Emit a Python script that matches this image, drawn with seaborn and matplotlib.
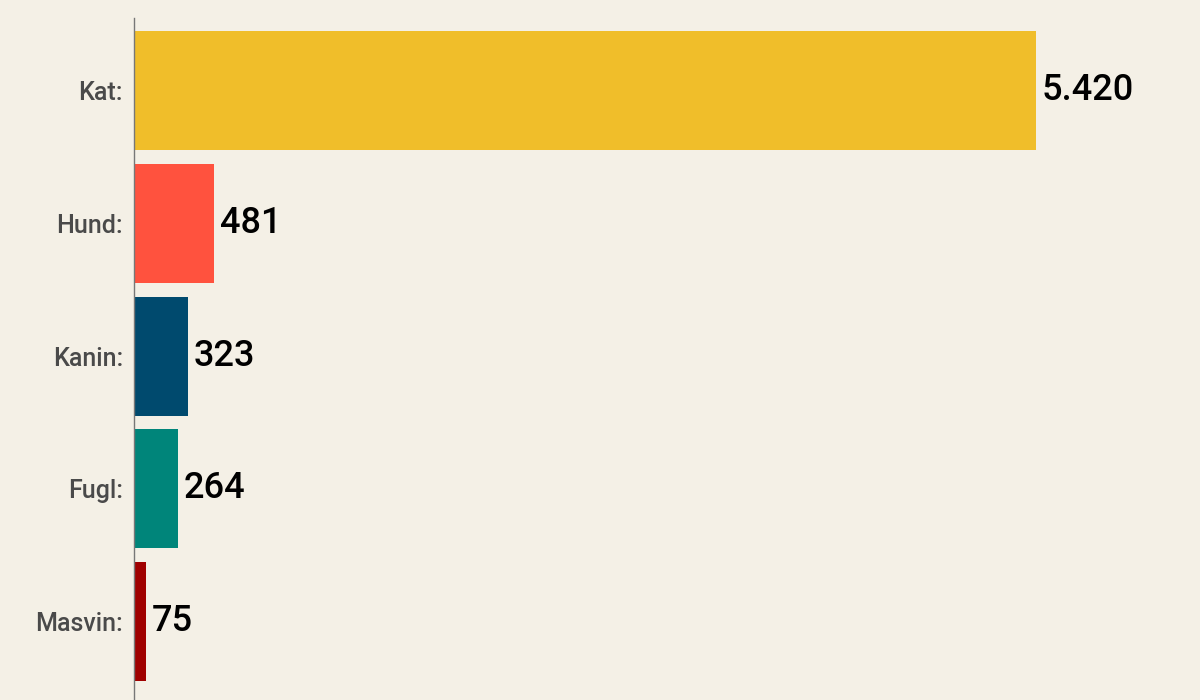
import pandas as pd
import matplotlib.pyplot as plt
import seaborn as sns

# Data
categories = ['Kat:', 'Hund:', 'Kanin:', 'Fugl:', 'Masvin:']
values = [5420, 481, 323, 264, 75]
colors = ['#F0BE2A', '#FF523E', '#004A6E', '#00857A', '#A00000']

bg = '#F4F0E6'

sns.set_theme(style='white')
plt.rcParams['font.family'] = ['Roboto', 'DejaVu Sans']

df = pd.DataFrame({'dyr': categories, 'antal': values})

fig = plt.figure(figsize=(12, 7), dpi=100, facecolor=bg)
ax = fig.add_axes([134 / 1200, 0, 1 - 134 / 1200, 1 - 18 / 700])
ax.set_facecolor(bg)

sns.barplot(data=df, x='antal', y='dyr', hue='dyr', palette=colors,
            orient='h', width=0.895, legend=False, ax=ax, saturation=1,
            linewidth=0)

# value labels with danish thousand separator
for cont, v in zip(ax.containers, values):
    ax.bar_label(cont, labels=[f"{v:,}".replace(",", ".")], padding=4,
                 fontsize=26, fontweight='medium', color='black')

ax.set_xlim(0, 6405)
ax.set_ylim(4.59, -0.546)
ax.set_xlabel('')
ax.set_ylabel('')
ax.set_xticks([])
ax.tick_params(axis='y', length=0, pad=8, labelsize=18, labelcolor='#4A4A4A')
for t in ax.get_yticklabels():
    t.set_fontweight('medium')

for s in ['top', 'right', 'bottom']:
    ax.spines[s].set_visible(False)
ax.spines['left'].set_color('#777777')
ax.spines['left'].set_linewidth(1)

fig.savefig('out.png', dpi=100, facecolor=bg)
